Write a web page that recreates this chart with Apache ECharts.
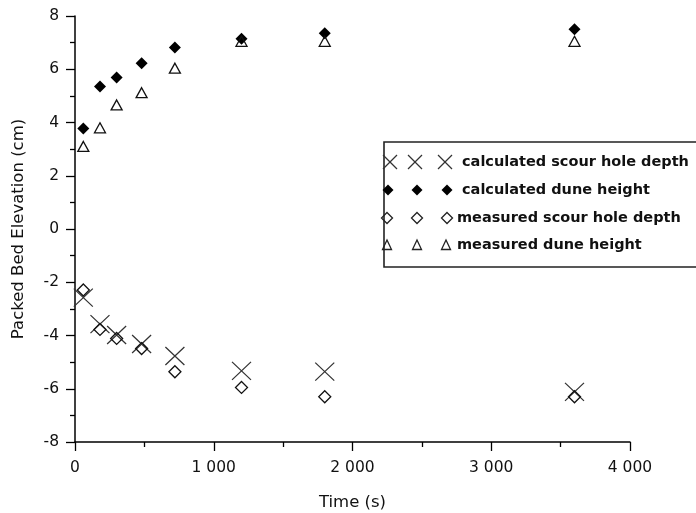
<!DOCTYPE html>
<html>
<head>
<meta charset="utf-8">
<script src="https://cdn.jsdelivr.net/npm/echarts@6/dist/echarts.min.js"></script>
<style>
  html, body { margin: 0; padding: 0; background: #fff; }
  #chart { width: 696px; height: 513px; }
</style>
</head>
<body>
<div id="chart"></div>
<script>
// Elapsed time of each measurement (s)
const times = [60, 180, 300, 480, 720, 1200, 1800, 3600];
// Bed elevations (cm)
const calcScourDepth = [-2.58, -3.57, -3.98, -4.32, -4.77, -5.33, -5.36, -6.12];
const calcDuneHeight = [3.77, 5.35, 5.69, 6.23, 6.82, 7.15, 7.35, 7.5];
const measScourDepth = [-2.29, -3.77, -4.11, -4.49, -5.36, -5.95, -6.3, -6.3];
const measDuneHeight = [3.1, 3.8, 4.66, 5.12, 6.04, 7.05, 7.05, 7.05];

const seriesNames = [
  'calculated scour hole depth',
  'calculated dune height',
  'measured scour hole depth',
  'measured dune height'
];
const xTicks = [0, 1000, 2000, 3000, 4000];
const yTicks = [-8, -6, -4, -2, 0, 2, 4, 6, 8];

const FONT = '"DejaVu Sans", Verdana, sans-serif';
const INK = '#111';

function pairs(ys) { return times.map((t, i) => [t, ys[i]]); }

// Legend: three sample marks followed by the series name, inside a framed box
const legendLayout = [
  { kind: 'cross',   cy: 162, xs: [390, 415, 445], tx: 462 },
  { kind: 'dfill',   cy: 190, xs: [388, 417, 447], tx: 462 },
  { kind: 'dopen',   cy: 218, xs: [387, 417, 447], tx: 457 },
  { kind: 'tri',     cy: 245, xs: [387, 417, 446], tx: 457 }
];

function sampleMark(kind, cx, cy) {
  const stroke = { stroke: '#222', lineWidth: 1.3, fill: null };
  if (kind === 'cross') {
    const h = 7;
    return [
      { type: 'line', shape: { x1: cx - h, y1: cy - h, x2: cx + h, y2: cy + h }, style: { stroke: '#333', lineWidth: 1.2 } },
      { type: 'line', shape: { x1: cx + h, y1: cy - h, x2: cx - h, y2: cy + h }, style: { stroke: '#333', lineWidth: 1.2 } }
    ];
  }
  if (kind === 'dfill') {
    return [{ type: 'polygon', shape: { points: [[cx, cy - 5.5], [cx + 5.5, cy], [cx, cy + 5.5], [cx - 5.5, cy]] }, style: { fill: '#000' } }];
  }
  if (kind === 'dopen') {
    return [{ type: 'polygon', shape: { points: [[cx, cy - 5.5], [cx + 5.5, cy], [cx, cy + 5.5], [cx - 5.5, cy]] }, style: stroke }];
  }
  return [{ type: 'polygon', shape: { points: [[cx, cy - 5], [cx + 4.5, cy + 4.5], [cx - 4.5, cy + 4.5]] }, style: stroke }];
}

const legendGraphics = [
  { type: 'rect', shape: { x: 384, y: 142, width: 400, height: 125 },
    style: { fill: '#fff', stroke: '#222', lineWidth: 1.6 }, z: 10 }
];
legendLayout.forEach((row, i) => {
  row.xs.forEach(x => {
    sampleMark(row.kind, x, row.cy).forEach(el => { el.z = 11; legendGraphics.push(el); });
  });
  legendGraphics.push({
    type: 'text', x: row.tx, y: row.cy, z: 11,
    style: { text: seriesNames[i], font: 'bold 14.5px ' + FONT, fill: INK, verticalAlign: 'middle', align: 'left' }
  });
});

const chart = echarts.init(document.getElementById('chart'), null, { renderer: 'canvas' });

const axisCommon = {
  axisLine: { onZero: false, lineStyle: { color: '#000', width: 1.5 } },
  axisTick: { show: true, inside: false, length: 9, lineStyle: { color: '#000', width: 1.3 } },
  minorTick: { show: true, splitNumber: 2, length: 5, lineStyle: { color: '#000', width: 1.3 } },
  splitLine: { show: false },
  nameLocation: 'middle',
  nameTextStyle: { fontFamily: FONT, fontSize: 16.5, color: INK }
};

chart.setOption({
  animation: false,
  backgroundColor: '#fff',
  grid: { left: 75, right: 66, top: 16, bottom: 71, containLabel: false, outerBoundsMode: 'none' },
  xAxis: Object.assign({}, axisCommon, {
    type: 'value',
    min: xTicks[0], max: xTicks[xTicks.length - 1], interval: 1000,
    name: 'Time (s)', nameGap: 52,
    axisLabel: {
      margin: 18, fontFamily: FONT, fontSize: 15.5, color: INK,
      formatter: v => String(v).replace(/\B(?=(\d{3})+(?!\d))/g, ' ')
    }
  }),
  yAxis: Object.assign({}, axisCommon, {
    type: 'value',
    min: yTicks[0], max: yTicks[yTicks.length - 1], interval: 2,
    name: 'Packed Bed Elevation (cm)', nameGap: 48,
    axisLabel: { margin: 16, fontFamily: FONT, fontSize: 15.5, color: INK }
  }),
  series: [
    {
      name: seriesNames[0], type: 'scatter', data: pairs(calcScourDepth),
      symbol: 'path://M0,0 L10,10 M10,0 L0,10', symbolSize: [19, 18],
      itemStyle: { color: 'transparent', borderColor: '#333', borderWidth: 1.2, opacity: 1 }
    },
    {
      name: seriesNames[1], type: 'scatter', data: pairs(calcDuneHeight),
      symbol: 'diamond', symbolSize: [12, 12],
      itemStyle: { color: '#000', opacity: 1 }
    },
    {
      name: seriesNames[2], type: 'scatter', data: pairs(measScourDepth),
      symbol: 'diamond', symbolSize: [12, 12],
      itemStyle: { color: 'transparent', borderColor: '#111', borderWidth: 1.3, opacity: 1 }
    },
    {
      name: seriesNames[3], type: 'scatter', data: pairs(measDuneHeight),
      symbol: 'triangle', symbolSize: [11, 10],
      itemStyle: { color: 'transparent', borderColor: '#111', borderWidth: 1.3, opacity: 1 }
    }
  ],
  graphic: legendGraphics
});
</script>
</body>
</html>
